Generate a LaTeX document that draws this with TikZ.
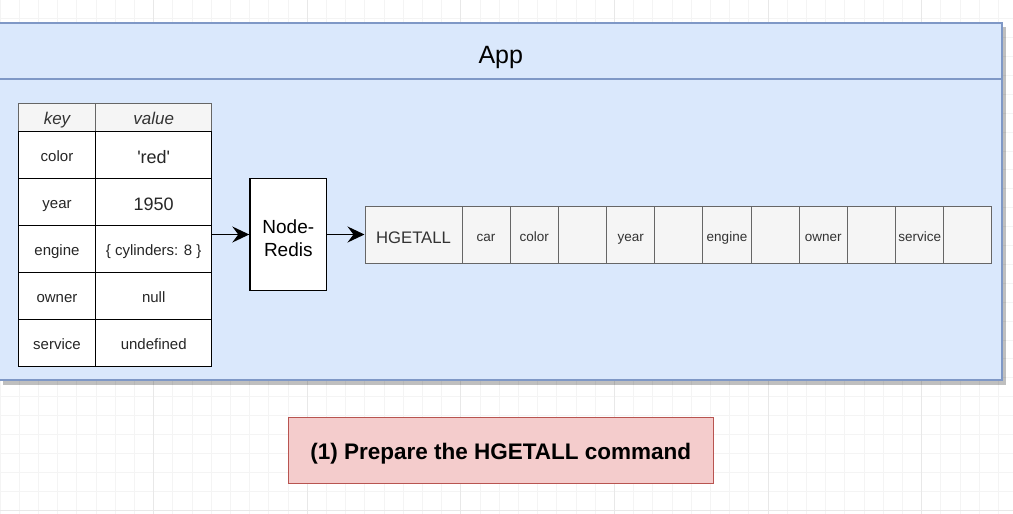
\documentclass[tikz,border=0pt]{standalone}
\usepackage{fontspec}
\setmainfont{Liberation Sans}
\usetikzlibrary{arrows.meta}
\definecolor{appfill}{HTML}{DAE8FC}
\definecolor{appline}{HTML}{7F98C6}
\definecolor{hdrfill}{HTML}{F5F5F5}
\definecolor{cellline}{HTML}{666666}
\definecolor{celltext}{HTML}{333333}
\definecolor{notefill}{HTML}{F4CCCC}
\definecolor{noteline}{HTML}{B85450}
\definecolor{gridminor}{HTML}{F4F4F4}
\definecolor{gridmajor}{HTML}{E8E8E8}
\tikzset{
  hdrcell/.style={draw=cellline, fill=hdrfill, line width=1pt, inner sep=0pt, minimum height=28.2pt, text=celltext, text height=17.5pt, text depth=3.6pt, font=\fontsize{17}{20}\selectfont\itshape},
  tabcell/.style={draw=black, fill=white, line width=1.3pt, inner sep=0pt, minimum height=47pt, text=black!85, text height=15.9pt, text depth=3.2pt, font=\fontsize{15}{18}\selectfont},
  bigval/.style={font=\fontsize{18}{21}\selectfont, text height=20pt, text depth=3.8pt},
  procbox/.style={draw=black, fill=white, line width=1.3pt, inner sep=0pt, minimum width=76.7pt, minimum height=112.4pt, align=center, text height=44.2pt, text depth=0.2pt, font=\fontsize{19}{22.6}\selectfont},
  stripcell/.style={draw=cellline, fill=hdrfill, line width=1pt, inner sep=0pt, minimum width=48.18pt, minimum height=57pt, text=celltext, text height=17.8pt, text depth=2.9pt, font=\fontsize{13.5}{16}\selectfont},
  cmdcell/.style={stripcell, minimum width=97pt, text height=20.9pt, text depth=3.5pt, font=\fontsize{16.7}{20}\selectfont},
  notebox/.style={draw=noteline, fill=notefill, line width=1.2pt, inner sep=0pt, minimum width=425pt, minimum height=66pt, text height=24pt, text depth=4.7pt, font=\fontsize{22.5}{26}\selectfont\bfseries},
  arr/.style={draw=black, line width=1.8pt, -{Stealth[length=17pt, width=16pt, inset=6pt]}},
}
\begin{document}
\begin{tikzpicture}[x=1pt,y=-1pt]
\useasboundingbox (0,0) rectangle (1013,514);
\fill[white] (0,0) rectangle (1013,514);
% background grid
\foreach \i in {0,...,52} \draw[gridminor, line width=0.8pt] (\i*19.2,0) -- (\i*19.2,514);
\foreach \j in {0,...,27} \draw[gridminor, line width=0.8pt] (0,510-\j*18.9) -- (1013,510-\j*18.9);
\foreach \i in {1,...,6} \draw[gridmajor, line width=0.8pt] (\i*153.6,0) -- (\i*153.6,514);
\draw[gridmajor, line width=0.8pt] (0,510) -- (1013,510);
% App container with shadow
\fill[black, opacity=0.25] (3,27) rectangle (1006,385);
\draw[appline, fill=appfill, line width=1.6pt] (-2,23) rectangle (1001.7,380);
\draw[appline, line width=1.6pt] (-2,79) -- (1001.7,79);
\node[font=\fontsize{25}{30}\selectfont] (app) at (500.8,57) {App};
% table
\node[hdrcell, minimum width=77.4pt] (hk) at (57,117.4) {key};
\node[hdrcell, minimum width=116pt] (hv) at (153.7,117.4) {value};
\node[tabcell, minimum width=77.4pt] (k1) at (57,155) {color};
\node[tabcell, minimum width=116pt, bigval] (v1) at (153.7,155) {\textquotesingle red\textquotesingle};
\node[tabcell, minimum width=77.4pt] (k2) at (57,202) {year};
\node[tabcell, minimum width=116pt, bigval] (v2) at (153.7,202) {1950};
\node[tabcell, minimum width=77.4pt] (k3) at (57,249) {engine};
\node[tabcell, minimum width=116pt] (v3) at (153.7,249) {\{ cylinders: 8 \}};
\node[tabcell, minimum width=77.4pt] (k4) at (57,296) {owner};
\node[tabcell, minimum width=116pt] (v4) at (153.7,296) {null};
\node[tabcell, minimum width=77.4pt] (k5) at (57,343) {service};
\node[tabcell, minimum width=116pt] (v5) at (153.7,343) {undefined};
% Node-Redis
\node[procbox] (nr) at (288.3,234.5) {Node-\\Redis};
% command strip
\node[cmdcell] (hg) at (413.5,234.5) {HGETALL};
\foreach \t [count=\n from 0] in {car,color,{},year,{},engine,{},owner,{},service,{}}
  \node[stripcell] (c\n) at (486.1+\n*48.18,234.5) {\t};
% connectors
\coordinate (tout) at (v3.east |- nr.west);
\draw[arr] (tout) -- (nr.west);
\draw[arr] (nr.east) -- (hg.west);
% note
\node[notebox] (note) at (500.8,450.3) {(1) Prepare the HGETALL command};
\end{tikzpicture}
\end{document}
